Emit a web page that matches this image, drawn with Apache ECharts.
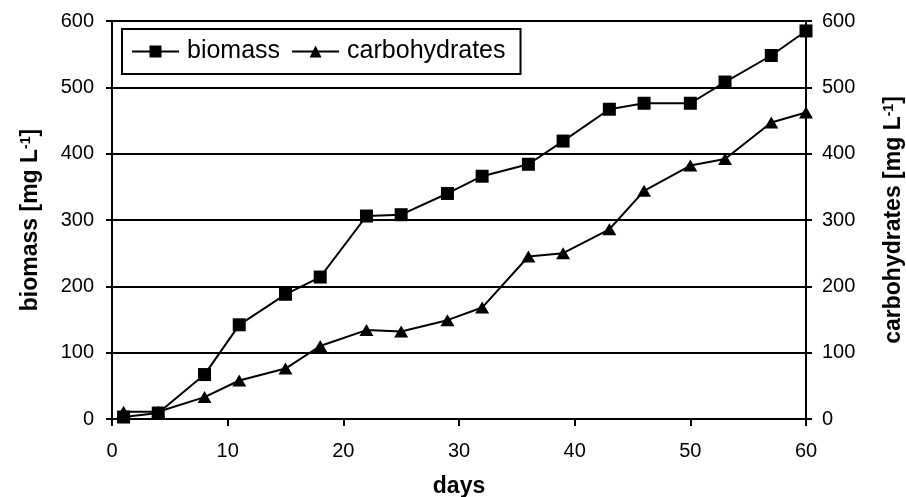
<!DOCTYPE html>
<html>
<head>
<meta charset="utf-8">
<script src="https://cdn.jsdelivr.net/npm/echarts@6/dist/echarts.min.js"></script>
<style>
  html, body { margin: 0; padding: 0; background: #fff; }
  #chart { width: 906px; height: 497px; }
</style>
</head>
<body>
<div id="chart"></div>
<script>
// days of sampling (shared by both series)
const days = [1, 4, 8, 11, 15, 18, 22, 25, 29, 32, 36, 39, 43, 46, 50, 53, 57, 60]
// biomass [mg L-1]
const biomass = [3, 9, 67, 142, 188, 214, 306, 308, 340, 366, 384, 419, 467, 476, 476, 508, 548, 585]
// carbohydrates [mg L-1]
const carbohydrates = [11, 11, 33, 58, 76, 110, 134, 132, 149, 168, 245, 250, 286, 344, 382, 392, 447, 462]
const xTicks = { min: 0, max: 60, interval: 10 }
const yTicks = { min: 0, max: 600, interval: 100 }

const font = 'Liberation Sans, Arial, sans-serif'
const myChart = echarts.init(document.getElementById('chart'))

const pairs = (vals) => days.map((d, i) => [d, vals[i]])

const nameRich = {
  b: { fontFamily: font, fontWeight: 'bold', fontSize: 23, color: '#000' },
  sup: { fontFamily: font, fontWeight: 'bold', fontSize: 14, color: '#000', verticalAlign: 'top', padding: [0, 0, 8, 0] }
}

const yCommon = {
  type: 'value',
  min: yTicks.min,
  max: yTicks.max,
  interval: yTicks.interval,
  nameLocation: 'middle',
  nameRotate: 90,
  nameTextStyle: { rich: nameRich },
  axisLine: { show: true, lineStyle: { color: '#000', width: 2 } },
  axisTick: { show: true, inside: false, length: 6, lineStyle: { color: '#000', width: 2 } },
  axisLabel: { color: '#000', fontSize: 20, fontFamily: font }
}

const option = {
  backgroundColor: '#fff',
  animation: false,
  grid: { left: 112, right: 100, top: 21, bottom: 78, outerBoundsMode: 'none', containLabel: false },
  legend: {
    left: 122,
    top: 29,
    padding: [10, 15, 10, 9],
    backgroundColor: '#fff',
    borderColor: '#000',
    borderWidth: 2,
    borderRadius: 0,
    itemWidth: 47,
    itemHeight: 15,
    itemGap: 11,
    textStyle: { color: '#000', fontSize: 25, fontFamily: font, padding: [0, 0, 0, 3] },
    data: ['biomass', 'carbohydrates']
  },
  xAxis: {
    type: 'value',
    min: xTicks.min,
    max: xTicks.max,
    interval: xTicks.interval,
    name: 'days',
    nameLocation: 'middle',
    nameGap: 56,
    nameTextStyle: { color: '#000', fontSize: 23, fontWeight: 'bold', fontFamily: font },
    splitLine: { show: false },
    axisLine: { show: true, onZero: false, lineStyle: { color: '#000', width: 2 } },
    axisTick: { show: true, length: 7, lineStyle: { color: '#000', width: 2 } },
    axisLabel: { color: '#000', fontSize: 20, fontFamily: font, margin: 22 }
  },
  yAxis: [
    Object.assign({}, yCommon, {
      position: 'left',
      name: '{b|biomass [mg L}{sup|-1}{b|]}',
      nameGap: 70,
      splitLine: { show: true, lineStyle: { color: '#000', width: 2 } },
      axisLabel: Object.assign({}, yCommon.axisLabel, { margin: 18 })
    }),
    Object.assign({}, yCommon, {
      position: 'right',
      name: '{b|carbohydrates [mg L}{sup|-1}{b|]}',
      nameGap: 76,
      nameRotate: 90,
      splitLine: { show: false },
      axisLabel: Object.assign({}, yCommon.axisLabel, { margin: 16 })
    })
  ],
  series: [
    {
      name: 'biomass',
      type: 'line',
      yAxisIndex: 0,
      symbol: 'rect',
      symbolSize: 13,
      showAllSymbol: true,
      lineStyle: { color: '#000', width: 2 },
      itemStyle: { color: '#000' },
      data: pairs(biomass)
    },
    {
      name: 'carbohydrates',
      type: 'line',
      yAxisIndex: 1,
      symbol: 'triangle',
      symbolSize: [14, 12],
      showAllSymbol: true,
      lineStyle: { color: '#000', width: 2 },
      itemStyle: { color: '#000' },
      data: pairs(carbohydrates)
    }
  ]
}
myChart.setOption(option)
</script>
</body>
</html>
